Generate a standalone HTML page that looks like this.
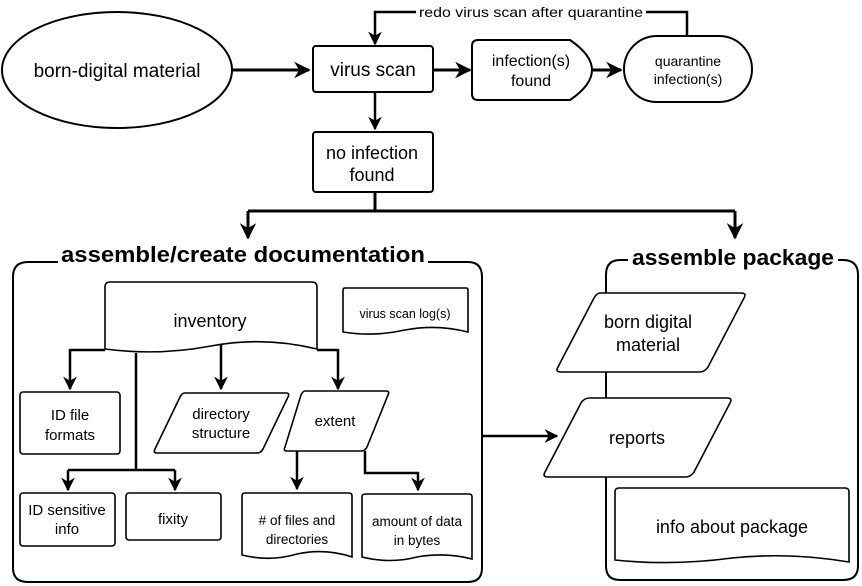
<!DOCTYPE html>
<html><head><meta charset="utf-8"><style>
html,body{margin:0;padding:0;background:#fff}
svg{display:block;font-family:"Liberation Sans",Arial,sans-serif}
</style></head><body>
<svg width="862" height="586" viewBox="0 0 862 586" xmlns="http://www.w3.org/2000/svg">
<defs>
<marker id="a" viewBox="0 0 10 10" refX="9" refY="5" markerWidth="5.5" markerHeight="5.5" orient="auto"><path d="M0,0 L10,5 L0,10 L3,5 z" fill="#000"/></marker>
</defs>
<g fill="#fff" stroke="#000" stroke-width="2">
<path d="M58,262 H28 Q13,262 13,277 V568 Q13,582 28,582 H468 Q482,582 482,568 V277 Q482,262 468,262 H428" fill="none"/>
<path d="M628,260 H620 Q606,260 606,275 V566 Q606,580 620,580 H843 Q858,580 858,566 V275 Q858,260 843,260 H838" fill="none"/>
<ellipse cx="117" cy="70" rx="115" ry="58"/>
<rect x="313" y="46" width="120" height="46" rx="3"/>
<path d="M478,40 H570 Q592,55 592,70 Q592,85 570,100 H478 Q472,100 472,94 V46 Q472,40 478,40 z"/>
<rect x="624" y="36" width="128" height="66" rx="33"/>
<rect x="313" y="132" width="120" height="60" rx="3"/>
</g>
<g fill="none" stroke="#000" stroke-width="3">
<path d="M232,70 H309" marker-end="url(#a)"/>
<path d="M433,70 H470" marker-end="url(#a)"/>
<path d="M592,70 H621" marker-end="url(#a)"/>
<path d="M687,36 V12 H375 V44" stroke-width="2.5" marker-end="url(#a)"/>
<path d="M375,92 V129" stroke-width="2.5" marker-end="url(#a)"/>
<path d="M375,192 V211 M248,211 H735"/>
<path d="M248,211 V238" marker-end="url(#a)"/>
<path d="M735,211 V238" marker-end="url(#a)"/>
<path d="M483,436 H557" stroke-width="2.5" marker-end="url(#a)"/>
</g>
<g fill="#fff" stroke="#000" stroke-width="1.6">
<path d="M110,282 H312 Q317,282 317,287 V349 Q264,336 211,346 Q158,356 105,349 V287 Q105,282 110,282 z"/>
<path d="M345,288 H466 Q468,288 468,290 V332 Q436,324 405,330 Q374,337 343,332 V290 Q343,288 345,288 z"/>
<rect x="20" y="392" width="100" height="62" rx="3"/>
<rect x="20" y="493" width="95" height="53" rx="3"/>
<rect x="126" y="493" width="95" height="47" rx="3"/>
<path d="M185,393 H286 Q290,393 288,397 L263,449 Q261,453 257,453 H157 Q153,453 155,449 L180,397 Q182,393 185,393 z"/>
<path d="M305,391 H386 Q390,391 388,395 L367,447 Q365,451 361,451 H287 Q283,451 285,447 L301,395 Q303,391 305,391 z"/>
<path d="M245,493 H349 Q352,493 352,496 V557 Q325,548 297,554 Q270,562 242,555 V496 Q242,493 245,493 z"/>
<path d="M365,494 H469 Q472,494 472,497 V559 Q445,552 417,557 Q390,564 362,557 V497 Q362,494 365,494 z"/>
<path d="M600,293 H741 Q747,293 744,298 L708,367 Q705,372 699,372 H561 Q555,372 558,367 L594,298 Q597,293 600,293 z"/>
<path d="M597,398 H727 Q733,398 730,403 L694,472 Q691,477 685,477 H548 Q542,477 545,472 L581,403 Q584,398 590,398 z"/>
<path d="M619,488 H845 Q849,488 849,492 V562 Q790,552 732,558 Q673,566 615,560 V492 Q615,488 619,488 z"/>
</g>
<g fill="none" stroke="#000" stroke-width="2.5">
<path d="M105,350 H70 V389" marker-end="url(#a)"/>
<path d="M136,353 V470 M68,470 H175"/>
<path d="M68,470 V490" marker-end="url(#a)"/>
<path d="M175,470 V490" marker-end="url(#a)"/>
<path d="M221,345 V389" marker-end="url(#a)"/>
<path d="M317,350 H338 V389" marker-end="url(#a)"/>
<path d="M297,451 V489" marker-end="url(#a)"/>
<path d="M365,451 V473 H418 V490" marker-end="url(#a)"/>
</g>
<rect x="416" y="4" width="230" height="16" fill="#fff"/>
<g fill="#000" text-anchor="middle">
<text x="531" y="17" font-size="14" textLength="224" lengthAdjust="spacingAndGlyphs">redo virus scan after quarantine</text>
<text x="117" y="77" font-size="19">born-digital material</text>
<text x="373" y="76" font-size="19">virus scan</text>
<text x="531" y="66" font-size="16">infection(s)</text>
<text x="531" y="86" font-size="16">found</text>
<text x="688" y="66" font-size="14">quarantine</text>
<text x="688" y="84" font-size="14">infection(s)</text>
<text x="372" y="159" font-size="18">no infection</text>
<text x="372" y="181" font-size="18">found</text>
<text x="243" y="262" font-size="22" font-weight="bold" textLength="364" lengthAdjust="spacingAndGlyphs">assemble/create documentation</text>
<text x="733" y="265" font-size="22" font-weight="bold" textLength="202" lengthAdjust="spacingAndGlyphs">assemble package</text>
<text x="210" y="327" font-size="18">inventory</text>
<text x="405" y="318" font-size="12.5">virus scan log(s)</text>
<text x="70" y="420" font-size="15">ID file</text>
<text x="70" y="440" font-size="15">formats</text>
<text x="221" y="419" font-size="15">directory</text>
<text x="221" y="438" font-size="15">structure</text>
<text x="335" y="426" font-size="15">extent</text>
<text x="67" y="515" font-size="15">ID sensitive</text>
<text x="67" y="534" font-size="15">info</text>
<text x="173" y="524" font-size="15">fixity</text>
<text x="297" y="525" font-size="13.5">&#35; of files and</text>
<text x="297" y="544" font-size="13.5">directories</text>
<text x="417" y="526" font-size="13.5">amount of data</text>
<text x="417" y="545" font-size="13.5">in bytes</text>
<text x="648" y="328" font-size="18">born digital</text>
<text x="648" y="351" font-size="18">material</text>
<text x="637" y="444" font-size="18">reports</text>
<text x="732" y="533" font-size="18">info about package</text>
</g>
</svg>
</body></html>
